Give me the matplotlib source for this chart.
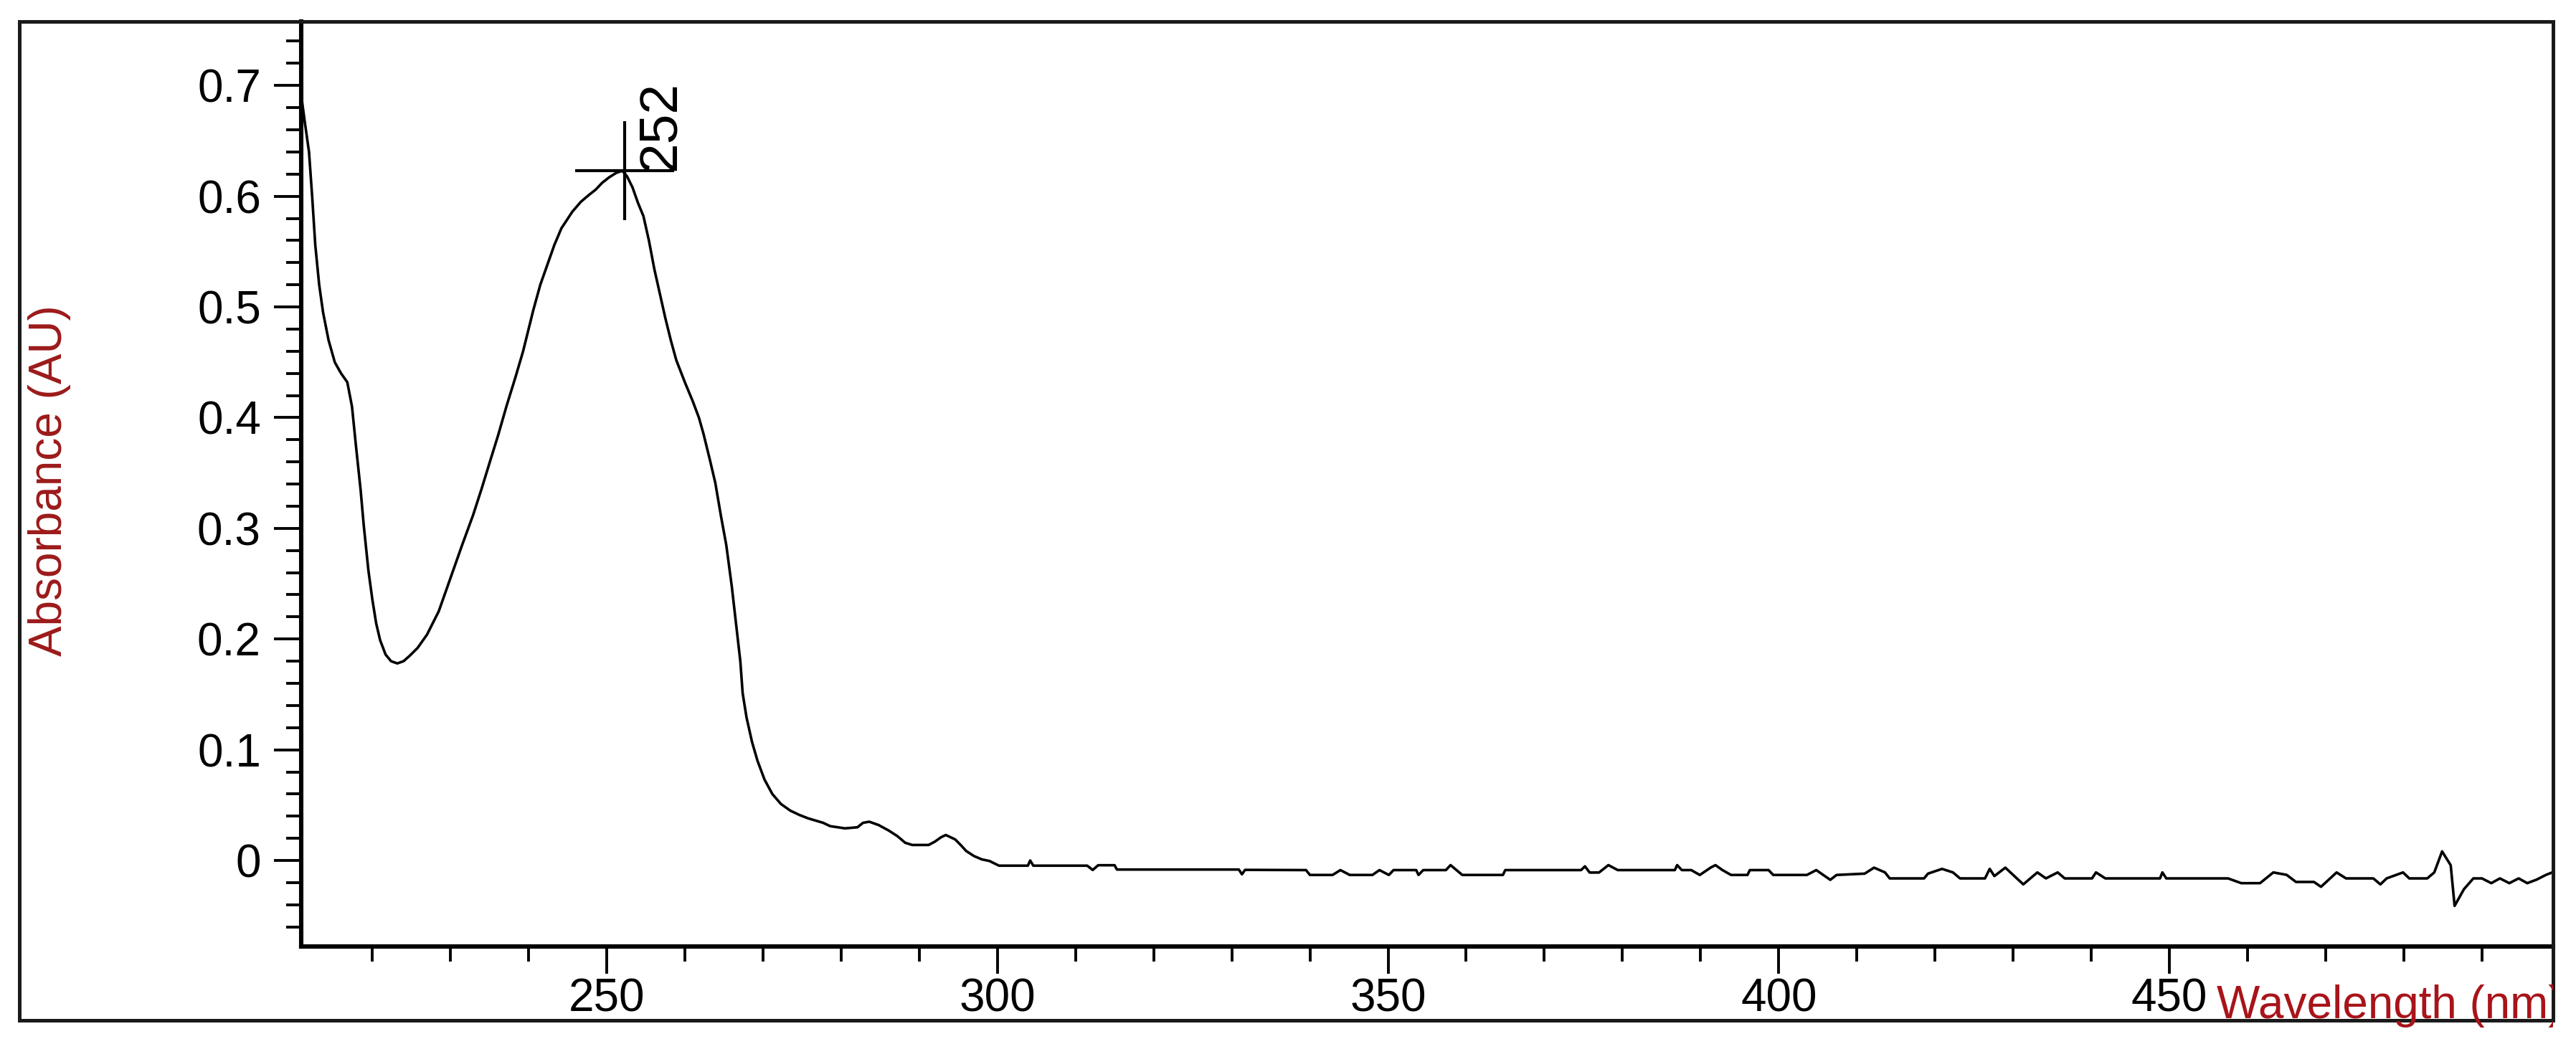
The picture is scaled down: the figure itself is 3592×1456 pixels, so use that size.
import matplotlib.pyplot as plt
from matplotlib.patches import Rectangle
from matplotlib.ticker import MultipleLocator, FuncFormatter
from matplotlib.transforms import Bbox, TransformedBbox

plt.rcParams['font.family'] = ['Liberation Sans', 'DejaVu Sans']

# spectrum
wavelength_nm = [
    211.0, 211.4, 211.9, 212.3, 212.7, 213.2, 213.7, 214.4, 215.2, 216.0,
    216.8, 217.4, 217.9, 218.5, 218.9, 219.5, 220.0, 220.5, 221.0, 221.7,
    222.4, 223.2, 224.0, 224.8, 225.8, 227.0, 228.5, 230.1, 231.5, 232.9,
    234.0, 235.0, 236.1, 237.2, 238.3, 239.3, 240.6, 241.5, 242.4, 243.3,
    244.2, 245.6, 246.7, 247.7, 248.6, 249.4, 250.3, 251.2, 252.0, 252.6,
    253.3, 254.0, 254.7, 255.4, 256.1, 256.8, 257.5, 258.2, 258.9, 260.0,
    261.0, 261.8, 262.4, 263.2, 263.9, 264.6, 265.3, 266.0, 266.7, 267.1,
    267.4, 267.9, 268.6, 269.3, 270.2, 271.2, 272.3, 273.5, 274.7, 275.8,
    277.7, 278.6, 280.5, 282.1, 282.8, 283.6, 284.8, 286.1, 287.2, 288.2,
    289.1, 291.2, 292.0, 292.8, 293.4, 294.6, 295.3, 296.0, 297.0, 298.0,
    299.0, 300.2, 303.9, 304.2, 304.6, 311.5, 312.2, 312.9, 315.0, 315.3,
    330.9, 331.3, 331.7, 339.5, 340.0, 342.9, 343.9, 345.1, 348.0, 348.9,
    350.1, 350.7, 353.6, 353.9, 354.5, 357.4, 358.0, 359.5, 364.7, 365.0,
    374.7, 375.2, 375.8, 377.0, 378.2, 379.4, 386.7, 387.0, 387.6, 388.8,
    389.9, 391.3, 391.9, 392.8, 393.9, 396.0, 396.3, 398.7, 399.3, 403.6,
    404.8, 406.6, 407.4, 411.0, 412.2, 413.6, 414.2, 418.6, 419.1, 420.9,
    422.3, 423.2, 426.4, 427.0, 427.6, 429.0, 431.3, 433.1, 434.2, 435.7,
    436.6, 440.1, 440.6, 441.8, 448.8, 449.1, 449.6, 457.5, 459.2, 461.6,
    463.3, 465.0, 466.2, 468.5, 469.4, 471.4, 472.6, 476.1, 477.0, 477.8,
    479.9, 480.7, 483.0, 483.9, 484.9, 486.0, 486.5, 487.7, 488.9, 490.0,
    491.2, 492.3, 493.5, 494.7, 495.8, 497.0, 498.2, 499.0,
]
absorbance_au = [
    0.686, 0.665, 0.640, 0.600, 0.556, 0.520, 0.495, 0.470, 0.450, 0.440,
    0.432, 0.410, 0.375, 0.335, 0.303, 0.262, 0.236, 0.214, 0.199, 0.186,
    0.180, 0.178, 0.180, 0.185, 0.192, 0.204, 0.225, 0.257, 0.285, 0.312,
    0.336, 0.359, 0.384, 0.411, 0.436, 0.460, 0.497, 0.520, 0.538, 0.556,
    0.571, 0.586, 0.595, 0.601, 0.606, 0.612, 0.617, 0.621, 0.623, 0.618,
    0.608, 0.594, 0.582, 0.560, 0.534, 0.512, 0.490, 0.470, 0.452, 0.432,
    0.415, 0.400, 0.385, 0.362, 0.341, 0.312, 0.285, 0.248, 0.205, 0.180,
    0.151, 0.129, 0.107, 0.090, 0.073, 0.060, 0.051, 0.045, 0.041, 0.038,
    0.034, 0.031, 0.029, 0.030, 0.034, 0.035, 0.032, 0.027, 0.022, 0.016,
    0.014, 0.014, 0.017, 0.021, 0.023, 0.019, 0.014, 0.0086, 0.004, 0.001,
    -0.0005, -0.0047, -0.0047, 0.0, -0.0047, -0.0047, -0.0086, -0.0043, -0.0043, -0.0082,
    -0.0082, -0.0125, -0.0085, -0.0087, -0.0131, -0.0131, -0.0087, -0.0131, -0.0131, -0.0087,
    -0.0131, -0.0087, -0.0087, -0.0131, -0.0087, -0.0087, -0.0042, -0.0131, -0.0131, -0.0087,
    -0.0087, -0.0053, -0.0109, -0.0109, -0.0042, -0.0087, -0.0087, -0.0042, -0.0087, -0.0087,
    -0.0131, -0.0064, -0.0042, -0.0087, -0.0131, -0.0131, -0.0087, -0.0087, -0.0131, -0.0131,
    -0.0087, -0.0175, -0.0131, -0.0119, -0.0065, -0.0108, -0.0162, -0.0162, -0.0119, -0.0076,
    -0.0108, -0.0162, -0.0162, -0.0076, -0.0141, -0.0065, -0.0216, -0.0108, -0.0162, -0.0108,
    -0.0162, -0.0162, -0.0108, -0.0162, -0.0162, -0.0108, -0.0162, -0.0162, -0.0205, -0.0205,
    -0.0108, -0.0130, -0.0194, -0.0194, -0.0238, -0.0108, -0.0162, -0.0162, -0.0216, -0.0162,
    -0.0108, -0.0162, -0.0162, -0.0108, 0.0082, -0.0043, -0.0410, -0.0259, -0.0162, -0.0162,
    -0.0205, -0.0162, -0.0205, -0.0162, -0.0205, -0.0173, -0.0130, -0.0108,
]

peak_nm = 252.3
peak_au = 0.623
peak_label = "252"

x_ticks = [250, 300, 350, 400, 450]
y_ticks = [0, 0.1, 0.2, 0.3, 0.4, 0.5, 0.6, 0.7]

W, H = 3592, 1456
fig = plt.figure(figsize=(W / 200, H / 200), dpi=200)
ax = fig.add_axes([420 / W, 1 - 1320 / H, (3560 - 420) / W, (1320 - 30) / H])

ax.plot(wavelength_nm, absorbance_au, color='black', lw=1.3)
ax.plot([peak_nm], [peak_au], marker='+', markersize=50, mew=1.5, color='black')
ax.annotate(peak_label, xy=(peak_nm, peak_au), xytext=(5.5, 0), textcoords='offset points',
            rotation=90, ha='left', va='bottom', fontsize=27, color='black')

ax.set_xlim(210.9, 499.1)
ax.set_ylim(-0.0777, 0.7578)

ax.set_xticks(x_ticks)
ax.set_yticks(y_ticks)
ax.xaxis.set_minor_locator(MultipleLocator(10))
ax.yaxis.set_minor_locator(MultipleLocator(0.02))
ax.yaxis.set_major_formatter(FuncFormatter(lambda v, p: f'{v:g}'))

ax.tick_params(which='major', length=13.7, width=1.4, labelsize=23, color='black')
ax.tick_params(which='minor', length=7.5, width=1.4)
ax.tick_params(axis='y', which='major', pad=6.5)
ax.tick_params(axis='x', which='major', pad=2)

for side in ['top', 'right']:
    ax.spines[side].set_visible(False)
for side in ['left', 'bottom']:
    ax.spines[side].set_linewidth(2.2)

# outer frame
fig.add_artist(Rectangle((27 / W, 1 - 1423 / H), (3560 - 27) / W, (1423 - 30) / H,
                         transform=fig.transFigure, fill=False, lw=1.8, ec='#1a1a1a'))

fig.text(69 / W, 1 - 670 / H, 'Absorbance (AU)', rotation=90, ha='center', va='center',
         fontsize=23, color='#9C1A1A')
xl = fig.text(3091 / W, 1 - 1420 / H, 'Wavelength (nm)', ha='left', va='baseline',
              fontsize=23, color='#A8141A')
xl.set_clip_box(TransformedBbox(Bbox([[0, 0], [3560 / W, 1]]), fig.transFigure))
xl.set_clip_on(True)

fig.savefig('out.png', dpi=200)
